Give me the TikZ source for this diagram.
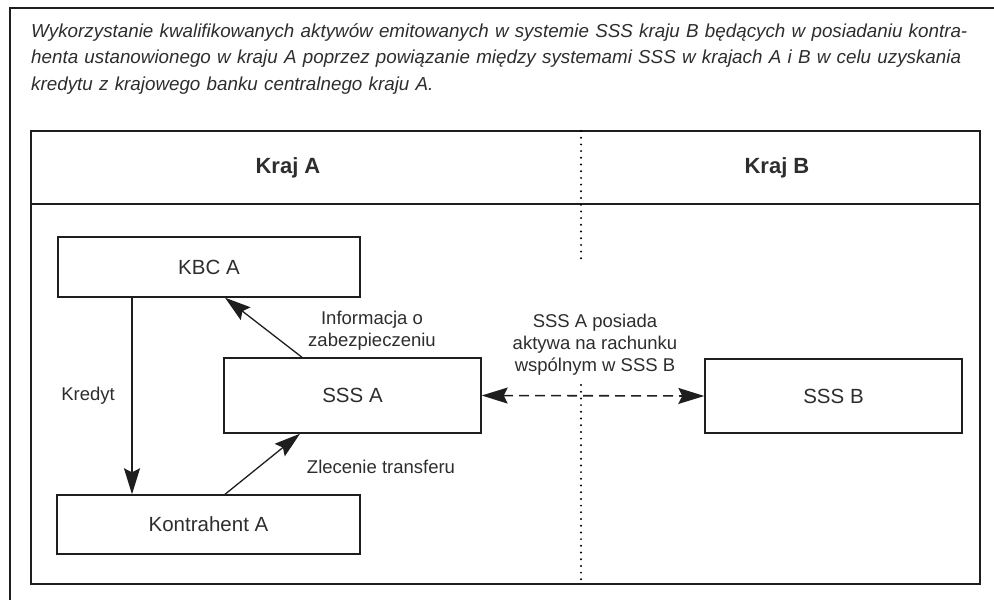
\documentclass[tikz,border=0pt]{standalone}
\usepackage{fontspec}
\setmainfont{Liberation Sans}
\usepackage{xcolor}
\usetikzlibrary{arrows.meta}
\definecolor{lineblk}{RGB}{30,30,30}
\definecolor{txtgray}{RGB}{45,45,45}

\tikzset{
  box/.style={draw=lineblk,line width=1.4pt,minimum width=#1,inner sep=0pt,font=\fontsize{20.5}{24}\selectfont,text=txtgray},
  lbl/.style={align=center,inner sep=0pt,font=\fontsize{18.5}{22}\selectfont,text=txtgray},
  arr/.style={-{Stealth[length=26pt,width=16pt,inset=4pt]},line width=1.3pt,draw=lineblk},
}

\begin{document}
\begin{tikzpicture}[x=1pt,y=-1pt]
  \useasboundingbox (0,0) rectangle (994,600);

  % outer frame and title
  \draw[lineblk,line width=1.7pt] (994,8) -- (10,8) -- (10,600);
  \node[anchor=north west,inner sep=0pt,text width=960pt,align=left,text=txtgray,
        font=\fontsize{18.8}{26.5}\selectfont\itshape] (title) at (31,23) {
    Wykorzystanie kwalifikowanych aktywów emitowanych w systemie SSS kraju B będących w posiadaniu kontra-\\
    henta ustanowionego w kraju A poprzez powiązanie między systemami SSS w krajach A i B w celu uzyskania\\
    kredytu z krajowego banku centralnego kraju A.
  };

  % table with two countries
  \draw[lineblk,line width=1.7pt] (31,131) rectangle (980,584);
  \draw[lineblk,line width=1.4pt] (31,204) -- (980,204);
  \draw[black,line width=2.2pt,line cap=round,dash pattern=on 0pt off 6.7pt] (581,131) -- (581,262);
  \draw[black,line width=2.2pt,line cap=round,dash pattern=on 0pt off 6.7pt] (581,385) -- (581,584);
  \node[font=\fontsize{22}{26}\selectfont\bfseries,text=txtgray] (krajA) at (288,168) {Kraj A};
  \node[font=\fontsize{22}{26}\selectfont\bfseries,text=txtgray] (krajB) at (777,168) {Kraj B};

  % boxes
  \node[box=302pt,minimum height=60pt] (kbc) at (209,267) {KBC A};
  \node[box=257pt,minimum height=75pt] (sssa) at (352.5,395.5) {SSS A};
  \node[box=257pt,minimum height=74pt] (sssb) at (833.5,396) {SSS B};
  \node[box=303pt,minimum height=59pt] (kontr) at (208.5,524.5) {Kontrahent A};

  % connectors
  \draw[arr] ([xshift=-77pt]kbc.south) -- ([xshift=-76.5pt]kontr.north);
  \draw[arr] ([xshift=-50.5pt]sssa.north) -- ([xshift=16pt]kbc.south);
  \draw[arr] ([xshift=16.5pt]kontr.north) -- ([xshift=-52.5pt]sssa.south);
  \draw[arr,line width=1.6pt,{Stealth[length=26pt,width=16pt,inset=4pt]}-{Stealth[length=26pt,width=16pt,inset=4pt]},
        dash pattern=on 10pt off 6pt] (sssa.east) -- (sssb.west);

  % labels
  \node[lbl] (kredyt) at (88,396) {Kredyt};
  \node[lbl] (info) at (372,331) {Informacja o\\zabezpieczeniu};
  \node[lbl] (zlec) at (381,467) {Zlecenie transferu};
  \node[lbl] (posiada) at (595,345) {SSS A posiada\\aktywa na rachunku\\wspólnym w SSS B};
\end{tikzpicture}
\end{document}
